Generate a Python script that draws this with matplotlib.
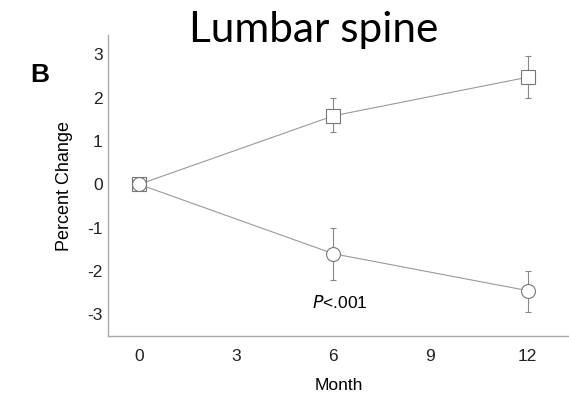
import matplotlib
matplotlib.use("Agg")
import matplotlib.pyplot as plt

plt.rcParams["axes.unicode_minus"] = False

months = [0, 6, 12]
sq_vals = [0.0, 1.58, 2.47]
sq_lo = [0.0, 1.2, 2.0]
sq_hi = [0.0, 2.0, 2.95]
ci_vals = [0.0, -1.6, -2.45]
ci_lo = [0.0, -2.2, -2.95]
ci_hi = [0.0, -1.0, -2.0]
xticks = [0, 3, 6, 9, 12]
yticks = [-3, -2, -1, 0, 1, 2, 3]

fig = plt.figure(figsize=(5.69, 3.95), dpi=100)
ax = fig.add_axes([0.19, 0.149, 0.81, 0.762])
lc = "#9a9a9a"
for vals, lo, hi, mk in [(sq_vals, sq_lo, sq_hi, "s"), (ci_vals, ci_lo, ci_hi, "o")]:
    yerr = [[v - l for v, l in zip(vals, lo)], [h - v for v, h in zip(vals, hi)]]
    ax.errorbar(months, vals, yerr=yerr, fmt="-", marker=mk, color=lc, lw=0.8,
                mfc="white", mec="#777777", ms=9.5 if mk == "s" else 10, mew=0.8,
                ecolor="#888888", elinewidth=0.8, capsize=2.5, capthick=0.8)
ax.set_xlim(-0.96, 13.28)
ax.set_ylim(-3.5, 3.44)
ax.set_xticks(xticks)
ax.set_yticks(yticks)
ax.spines["top"].set_visible(False)
ax.spines["right"].set_visible(False)
for s in ["left", "bottom"]:
    ax.spines[s].set_color("#aaaaaa")
    ax.spines[s].set_linewidth(1.0)
ax.tick_params(axis="both", length=0, labelsize=12.5, colors="#222222")
ax.tick_params(axis="x", pad=9)
ax.tick_params(axis="y", pad=4)
ax.set_xlabel("Month", fontsize=12.5, labelpad=10, family="Liberation Sans")
ax.set_ylabel("Percent Change", fontsize=13, labelpad=10, family="Liberation Sans")
for lab in ax.get_xticklabels() + ax.get_yticklabels():
    lab.set_family("Liberation Sans")
ax.text(6.2, -2.72, "$\\mathit{P}$<.001", fontsize=12.5, ha="center", va="center",
        family="Liberation Sans")
fig.text(0.551, 1 - 42 / 395, "Lumbar spine", fontsize=30.5, ha="center", va="baseline",
         family="Lato")
fig.text(0.069, 1 - 75 / 395, "B", fontsize=19, fontweight="bold", ha="center", va="center",
         family="Liberation Sans")
fig.savefig("out.png", dpi=100)
